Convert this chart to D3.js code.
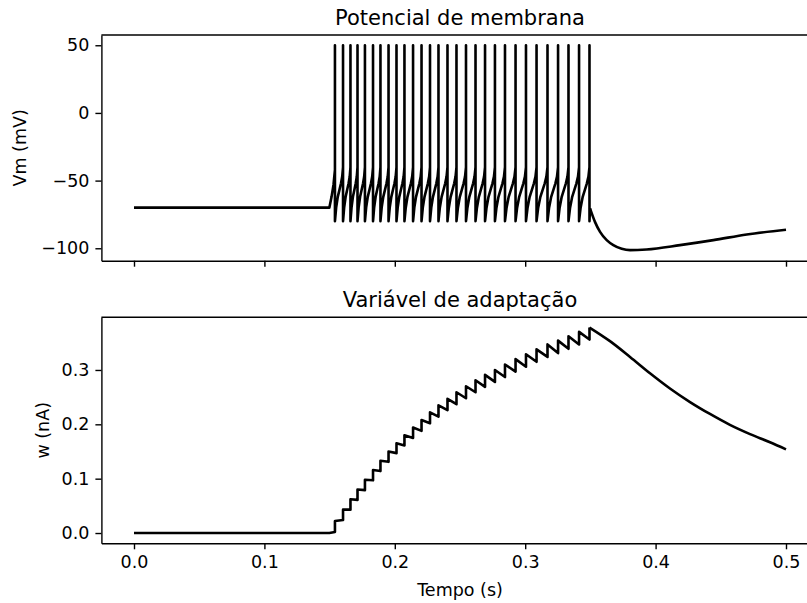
<!DOCTYPE html>
<html>
<head>
<meta charset="utf-8">
<script src="https://cdn.jsdelivr.net/npm/d3@7"></script>
<style>
  body { margin: 0; background: #fff; }
  svg text { font-family: "DejaVu Sans", sans-serif; fill: #000; }
</style>
</head>
<body>
<div id="chart"></div>
<script>
// Values

// spike times (s)
var spikeTimes = [0.1541, 0.1603, 0.1660, 0.1714, 0.1771, 0.1833, 0.1890, 0.1952, 0.2013, 0.2074,
                  0.2140, 0.2205, 0.2270, 0.2335, 0.2404, 0.2473, 0.2546, 0.2619, 0.2692, 0.2768,
                  0.2845, 0.2926, 0.3006, 0.3087, 0.3171, 0.3252, 0.3332, 0.3413, 0.3493];

// adaptation current just before / just after each spike (nA)
var wBefore = [0.002, 0.024, 0.043, 0.061, 0.079, 0.097, 0.114, 0.131, 0.147, 0.161,
               0.175, 0.188, 0.202, 0.214, 0.226, 0.237, 0.248, 0.259, 0.269, 0.278,
               0.287, 0.297, 0.306, 0.315, 0.324, 0.331, 0.339, 0.347, 0.356];
var wAfter = [0.022, 0.043, 0.062, 0.080, 0.098, 0.116, 0.133, 0.150, 0.165, 0.180,
              0.194, 0.208, 0.222, 0.235, 0.247, 0.259, 0.270, 0.281, 0.291, 0.300,
              0.310, 0.320, 0.329, 0.338, 0.347, 0.354, 0.362, 0.370, 0.378];

var vRest = -70, vReset = -80, vPeak = 50;   // mV
var stepOn = 0.1498;                          // s, current step onset

// membrane potential from step onset up to the first spike [t, mV]
var vOnset = [[0.1498, -70], [0.1515, -62], [0.1530, -53], [0.1541, -42]];
// shape of each interspike ramp: [fraction of interval, mV]
var vRamp = [[0, -80], [0.15, -70], [0.35, -62], [0.55, -57], [0.75, -52], [0.9, -47], [1, -40]];
// after the last spike [t, mV]
var vTail = [[0.3497, -70.5], [0.3535, -80.5], [0.3574, -87.9], [0.3625, -94.0], [0.3676, -97.7],
             [0.3740, -100.4], [0.3804, -101.4], [0.3931, -100.9], [0.4187, -97.7], [0.4443, -94.0],
             [0.4699, -89.8], [0.5000, -86.3]];
// w after the last spike [t, nA]
var wTail = [[0.3493, 0.378], [0.3650, 0.353], [0.3804, 0.324], [0.3957, 0.294], [0.4110, 0.266],
             [0.4264, 0.241], [0.4417, 0.219], [0.4570, 0.199], [0.4724, 0.182], [0.4877, 0.167],
             [0.5000, 0.154]];

var xTicks = [0, 0.1, 0.2, 0.3, 0.4, 0.5];
var vTicks = [-100, -50, 0, 50];
var wTicks = [0, 0.1, 0.2, 0.3];

// Build the traces
var vm = [[0, vRest]].concat(vOnset);
spikeTimes.forEach(function(t, i) {
  vm.push([t, vPeak]);
  vm.push([t, vReset]);
  if (i < spikeTimes.length - 1) {
    var isi = spikeTimes[i + 1] - t;
    vRamp.slice(1).forEach(function(p) {
      vm.push([t + p[0] * isi, p[1]]);
    });
  }
});
vm.push(vTail[0]);

var w = [[0, 0], [stepOn, 0]];
spikeTimes.forEach(function(t, i) {
  w.push([t, wBefore[i]]);
  w.push([t, wAfter[i]]);
});

// Boilerplate
var width = 807, height = 603;
var fs = 17.5;

var svg = d3.select("#chart")
  .append("svg")
  .attr("width", width)
  .attr("height", height);

svg.append("rect").attr("width", width).attr("height", height).attr("fill", "#fff");

var left = 101.4, right = 818.6;
var top1 = 35, bottom1 = 260.7;
var top2 = 317.3, bottom2 = 543.3;

var xScale = d3.scaleLinear().domain([-0.025, 0.525]).range([left, right]);
var vScale = d3.scaleLinear().domain([-109.18, 57.58]).range([bottom1, top1]);
var wScale = d3.scaleLinear().domain([-0.0189, 0.3969]).range([bottom2, top2]);

function styleAxis(g) {
  g.selectAll("path.domain").attr("stroke", "#000").attr("stroke-width", 1.4);
  g.selectAll(".tick line").attr("stroke", "#000").attr("stroke-width", 1.4);
  g.selectAll(".tick text").attr("font-size", fs + "px").attr("font-family", "DejaVu Sans");
}

function frameTop(yTop) {
  svg.append("line")
    .attr("x1", left).attr("x2", right)
    .attr("y1", yTop).attr("y2", yTop)
    .attr("stroke", "#000").attr("stroke-width", 1.4);
}

// Top panel: membrane potential
svg.append("g")
  .attr("transform", "translate(0," + bottom1 + ")")
  .call(d3.axisBottom(xScale).tickValues(xTicks).tickFormat("").tickSize(6).tickSizeOuter(0))
  .call(styleAxis);

svg.append("g")
  .attr("transform", "translate(" + left + ",0)")
  .call(d3.axisLeft(vScale).tickValues(vTicks).tickFormat(d3.format("d")).tickSize(6).tickPadding(6).tickSizeOuter(0))
  .call(styleAxis);

frameTop(top1);

var lineV = d3.line().x(function(d) { return xScale(d[0]); }).y(function(d) { return vScale(d[1]); });
var lineW = d3.line().x(function(d) { return xScale(d[0]); }).y(function(d) { return wScale(d[1]); });

svg.append("path")
  .attr("d", lineV(vm))
  .attr("fill", "none").attr("stroke", "#000").attr("stroke-width", 2.6)
  .attr("stroke-linejoin", "round");

svg.append("path")
  .attr("d", lineV.curve(d3.curveMonotoneX)(vTail))
  .attr("fill", "none").attr("stroke", "#000").attr("stroke-width", 2.6)
  .attr("stroke-linejoin", "round");

svg.append("text")
  .attr("x", (left + right) / 2).attr("y", top1 - 10.5)
  .attr("text-anchor", "middle").attr("font-size", "21px")
  .text("Potencial de membrana");

svg.append("text")
  .attr("transform", "translate(26," + (top1 + bottom1) / 2 + ") rotate(-90)")
  .attr("text-anchor", "middle").attr("font-size", fs + "px")
  .text("Vm (mV)");

// Bottom panel: adaptation variable
svg.append("g")
  .attr("transform", "translate(0," + bottom2 + ")")
  .call(d3.axisBottom(xScale).tickValues(xTicks).tickFormat(d3.format(".1f")).tickSize(6).tickPadding(6).tickSizeOuter(0))
  .call(styleAxis);

svg.append("g")
  .attr("transform", "translate(" + left + ",0)")
  .call(d3.axisLeft(wScale).tickValues(wTicks).tickFormat(d3.format(".1f")).tickSize(6).tickPadding(6).tickSizeOuter(0))
  .call(styleAxis);

frameTop(top2);

svg.append("path")
  .attr("d", lineW(w.concat([wTail[0]])))
  .attr("fill", "none").attr("stroke", "#000").attr("stroke-width", 2.6)
  .attr("stroke-linejoin", "round");

svg.append("path")
  .attr("d", lineW.curve(d3.curveMonotoneX)(wTail))
  .attr("fill", "none").attr("stroke", "#000").attr("stroke-width", 2.6)
  .attr("stroke-linejoin", "round");

svg.append("text")
  .attr("x", (left + right) / 2).attr("y", top2 - 10.5)
  .attr("text-anchor", "middle").attr("font-size", "21px")
  .text("Variável de adaptação");

svg.append("text")
  .attr("transform", "translate(49," + (top2 + bottom2) / 2 + ") rotate(-90)")
  .attr("text-anchor", "middle").attr("font-size", fs + "px")
  .text("w (nA)");

svg.append("text")
  .attr("x", (left + right) / 2).attr("y", 596)
  .attr("text-anchor", "middle").attr("font-size", fs + "px")
  .text("Tempo (s)");
</script>
</body>
</html>
